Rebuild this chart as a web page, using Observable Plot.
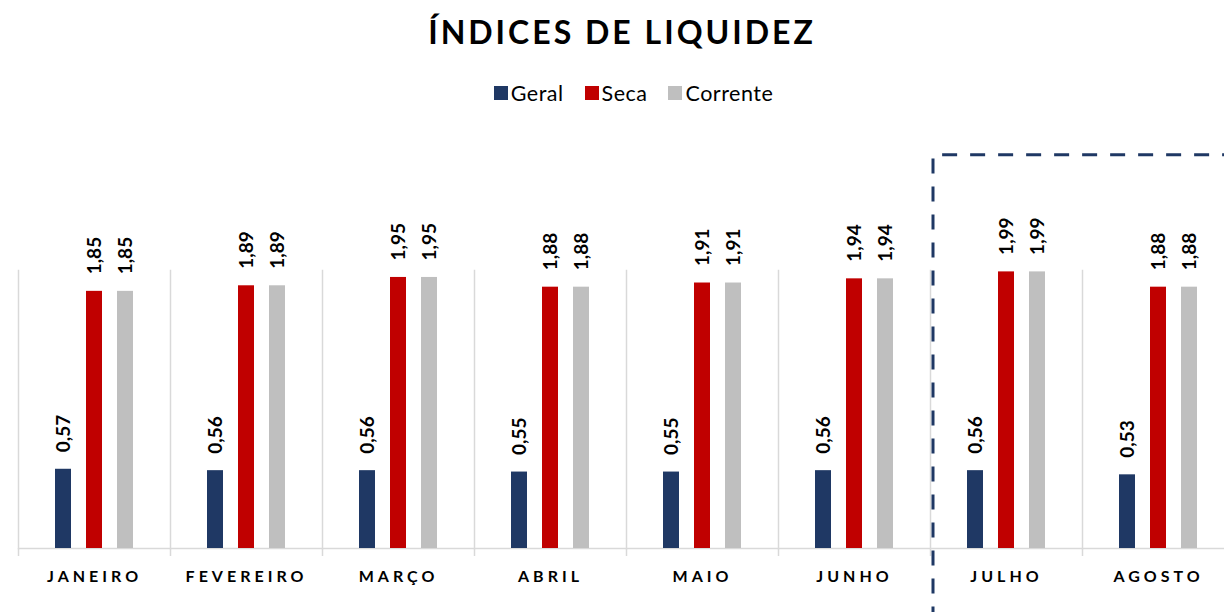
<!DOCTYPE html>
<html>
<head>
<meta charset="utf-8">
<script src="https://cdn.jsdelivr.net/npm/d3@7"></script>
<script src="https://cdn.jsdelivr.net/npm/@observablehq/plot@0.6"></script>
<style>
  html, body { margin: 0; padding: 0; background: #fff; overflow: hidden; }
  #wrap { position: relative; width: 1224px; height: 612px; overflow: hidden; font-family: Lato, "Noto Sans", sans-serif; }
  #title { position: absolute; top: 12px; left: 10px; width: 1224px; text-align: center; font-size: 32px; font-weight: bold; letter-spacing: 3px; color: #000; }
  #legend { position: absolute; top: 76px; left: 0; width: 1288px; display: flex; justify-content: center; }
  #chart { position: absolute; top: 120px; left: 0; width: 1240px; }
  .lg-swatches { font-family: Lato, "Noto Sans", sans-serif !important; font-size: 21.5px !important; letter-spacing: 0.5px; color: #000; }
  .lg-swatch { margin-right: 21px !important; }
  .lg-swatch svg { margin-right: 3px !important; }
  g[aria-label="fx-axis tick label"] text { letter-spacing: 4px; }
</style>
</head>
<body>
<div id="wrap">
  <div id="title">ÍNDICES DE LIQUIDEZ</div>
  <div id="legend"></div>
  <div id="chart"></div>
</div>
<script>
const months = ["JANEIRO", "FEVEREIRO", "MARÇO", "ABRIL", "MAIO", "JUNHO", "JULHO", "AGOSTO"];
const seriesNames = ["Geral", "Seca", "Corrente"];
const seriesColors = ["#1f3864", "#c00000", "#bfbfbf"];
const geral = [0.57, 0.56, 0.56, 0.55, 0.55, 0.56, 0.56, 0.53];
const seca = [1.85, 1.89, 1.95, 1.88, 1.91, 1.94, 1.99, 1.88];
const corrente = [1.85, 1.89, 1.95, 1.88, 1.91, 1.94, 1.99, 1.88];
const highlighted = ["JULHO", "AGOSTO"];

const seriesValues = [geral, seca, corrente];
const data = [];
months.forEach((m, i) => {
  seriesNames.forEach((s, j) => data.push({month: m, series: s, value: seriesValues[j][i]}));
});
const fmt = v => v.toFixed(2).replace(".", ",");

const plot = Plot.plot({
  width: 1240,
  height: 492,
  marginLeft: 18,
  marginRight: 6,
  marginTop: 150,
  marginBottom: 64,
  style: {fontFamily: "Lato, 'Noto Sans', sans-serif", overflow: "visible", maxWidth: "none"},
  fx: {domain: months, padding: 0, label: null},
  x: {domain: seriesNames, paddingInner: 0.476, paddingOuter: 1.15, axis: null},
  y: {domain: [0, 2], axis: null},
  color: {domain: seriesNames, range: seriesColors},
  marks: [
    Plot.frame({anchor: "left", stroke: "#d9d9d9", strokeWidth: 1.5}),
    Plot.ruleY([0], {stroke: "#d9d9d9", strokeWidth: 1.5}),
    Plot.barY(data, {fx: "month", x: "series", y: "value", fill: "series"}),
    Plot.text(data, {
      fx: "month", x: "series", y: "value", text: d => fmt(d.value),
      rotate: -90, textAnchor: "start", dy: -17,
      fontSize: 19, fontWeight: "bold", fill: "#000"
    }),
    Plot.axisFx({anchor: "bottom", tickSize: 0, tickPadding: 22, fontSize: 16, fontWeight: "bold", label: null, fill: "#000"})
  ]
});
document.getElementById("chart").appendChild(plot);

// separator ticks below baseline and dashed highlight box, positioned through the plot's scales
const fxS = plot.scale("fx");
const yS = plot.scale("y");
const svg = d3.select(plot);
const y0 = yS.apply(0);
months.forEach(m => {
  const x = fxS.apply(m) + 0.5;
  svg.append("line").attr("x1", x).attr("x2", x).attr("y1", y0).attr("y2", y0 + 8)
    .attr("stroke", "#d9d9d9").attr("stroke-width", 1.5);
});
const bx = fxS.apply(highlighted[0]) + 3;
const by = yS.apply(2.83);
const bb = y0 + 65.5;
svg.append("path")
  .attr("d", `M${bx + 400},${bb} H${bx} V${by} H${bx + 400}`)
  .attr("fill", "none").attr("stroke", "#1f3864").attr("stroke-width", 3)
  .attr("stroke-dasharray", "15 13");

const leg = plot.legend("color", {swatchSize: 14, className: "lg"});
document.getElementById("legend").appendChild(leg);
</script>
</body>
</html>
